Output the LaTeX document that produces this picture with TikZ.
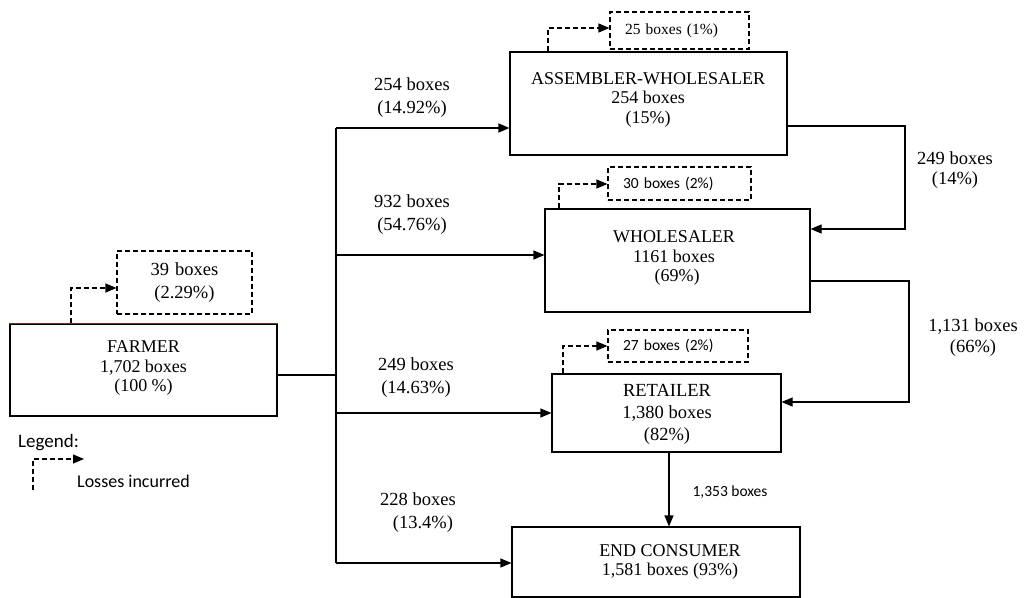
\documentclass[tikz,border=0pt]{standalone}
\usepackage{fontspec}
\setmainfont{Liberation Serif}
\newfontfamily\sansf{Carlito}
\usetikzlibrary{arrows.meta}
\definecolor{topbrown}{RGB}{110,50,30}
\begin{document}
\begin{tikzpicture}[x=1pt,y=-1pt,
  frame/.style={draw, line width=1.1pt, inner sep=0pt},
  boxtext/.style={inner sep=0pt, align=center, font=\fontsize{18}{19.5}\selectfont},
  edgetext/.style={inner sep=0pt, align=center, font=\fontsize{18.5}{23}\selectfont},
  lossbox/.style={draw, line width=1.1pt, dash pattern=on 5pt off 3pt, inner ysep=0pt, inner xsep=15pt, align=left, font=\fontsize{15.5}{17}\selectfont},
  arr/.style={line width=1.1pt, -{Triangle[length=11pt,width=9pt]}},
  line/.style={line width=1.1pt},
  lossarr/.style={line width=1.1pt, dash pattern=on 5pt off 3pt, -{Triangle[length=11pt,width=9pt]}}
]
\useasboundingbox (0,0) rectangle (1028,597);

% main boxes
\node[frame, minimum width=267pt, minimum height=92pt] (farmer) at (143.5,370) {};
\node[boxtext] (farmertxt) at (143.5,368) {FARMER\\1,702 boxes\\(100 \%)};
\draw[topbrown, line width=1.1pt] (farmer.north west) -- (farmer.north east);

\node[frame, minimum width=277pt, minimum height=103pt] (assembler) at (648.5,103.5) {};
\node[boxtext] (assemblertxt) at (648,99.5) {ASSEMBLER-WHOLESALER\\254 boxes\\(15\%)};

\node[frame, minimum width=265pt, minimum height=103pt] (wholesaler) at (677.5,260.5) {};
\node[boxtext] (wholesalertxt) at (674,258) {WHOLESALER\\1161 boxes\\\hspace{6pt}(69\%)};

\node[frame, minimum width=229pt, minimum height=78pt] (retailer) at (666.5,413) {};
\node[boxtext, font=\fontsize{18.5}{22}\selectfont] (retailertxt) at (667,414) {RETAILER\\1,380 boxes\\(82\%)};

\node[frame, minimum width=288pt, minimum height=70pt] (consumer) at (656,562) {};
\node[boxtext] (consumertxt) at (670,562) {END CONSUMER\\1,581 boxes (93\%)};

% loss boxes
\node[lossbox, text width=105pt, minimum height=63pt, align=center, inner xsep=15pt, font=\fontsize{18.5}{23}\selectfont] (floss) at (184.5,282.5) {39 boxes\\(2.29\%)};
\node[lossbox, text width=109pt, minimum height=37pt] (aloss) at (679.5,30.5) {25 boxes (1\%)};
\node[lossbox, text width=113pt, minimum height=33pt, font=\sansf\fontsize{15.5}{17}\selectfont] (wloss) at (679.5,183.5) {30 boxes (2\%)};
\node[lossbox, text width=110pt, minimum height=32pt, font=\sansf\fontsize{15.5}{17}\selectfont] (rloss) at (678,346) {27 boxes (2\%)};

% loss arrows
\coordinate (fl) at (71,288);
\coordinate (al) at (548,28);
\coordinate (wl) at (559,184);
\coordinate (rl) at (563,346);
\draw[lossarr] (farmer.north -| fl) -- (fl) -- (floss.west |- fl);
\draw[lossarr] (assembler.north -| al) -- (al) -- (aloss.west |- al);
\draw[lossarr] (wholesaler.north -| wl) -- (wl) -- (wloss.west |- wl);
\draw[lossarr] (retailer.north -| rl) -- (rl) -- (rloss.west |- rl);

% trunk
\coordinate (f1) at (336,375);
\coordinate (t1) at (336,128);
\coordinate (t2) at (336,255);
\coordinate (t3) at (336,413);
\coordinate (t4) at (336,563);
\draw[line] (farmer.east |- f1) -- (f1);
\draw[line] (t1) -- (t4);
\draw[arr] (t1) -- (assembler.west |- t1);
\draw[arr] (t2) -- (wholesaler.west |- t2);
\draw[arr] (t3) -- (retailer.west |- t3);
\draw[arr] (t4) -- (consumer.west |- t4);

% right side loops
\coordinate (a1) at (905,126);
\coordinate (a2) at (905,229);
\draw[arr] (assembler.east |- a1) -- (a1) -- (a2) -- (wholesaler.east |- a2);
\coordinate (w1) at (909,281);
\coordinate (w2) at (909,402);
\draw[arr] (wholesaler.east |- w1) -- (w1) -- (w2) -- (retailer.east |- w2);
\coordinate (r1) at (669,452);
\draw[arr] (retailer.south -| r1) -- (consumer.north -| r1);

% edge labels
\node[edgetext] (l1) at (412,98) {254 boxes\\(14.92\%)};
\node[edgetext] (l2) at (412,215) {932 boxes\\(54.76\%)};
\node[edgetext] (l3) at (416,377.5) {249 boxes\\(14.63\%)};
\node[edgetext] (l4) at (418,513) {228 boxes\\\hspace{10pt}(13.4\%)};
\node[edgetext, font=\fontsize{18.5}{20}\selectfont] (l5) at (955,170) {249 boxes\\(14\%)};
\node[edgetext, font=\fontsize{18.5}{21}\selectfont] (l6) at (973,337.5) {1,131 boxes\\(66\%)};
\node[inner sep=0pt, font=\sansf\fontsize{15.5}{17}\selectfont] (l7) at (730,492) {1,353 boxes};

% legend
\node[anchor=west, inner sep=0pt, font=\sansf\fontsize{19}{21}\selectfont] (legend) at (18,443) {Legend:};
\coordinate (lg1) at (33,490);
\coordinate (lg2) at (33,459);
\coordinate (lg3) at (84,459);
\draw[lossarr] (lg1) -- (lg2) -- (lg3);
\node[anchor=west, inner sep=0pt, font=\sansf\fontsize{18}{20}\selectfont] (losses) at (77,481) {Losses incurred};
\end{tikzpicture}
\end{document}
